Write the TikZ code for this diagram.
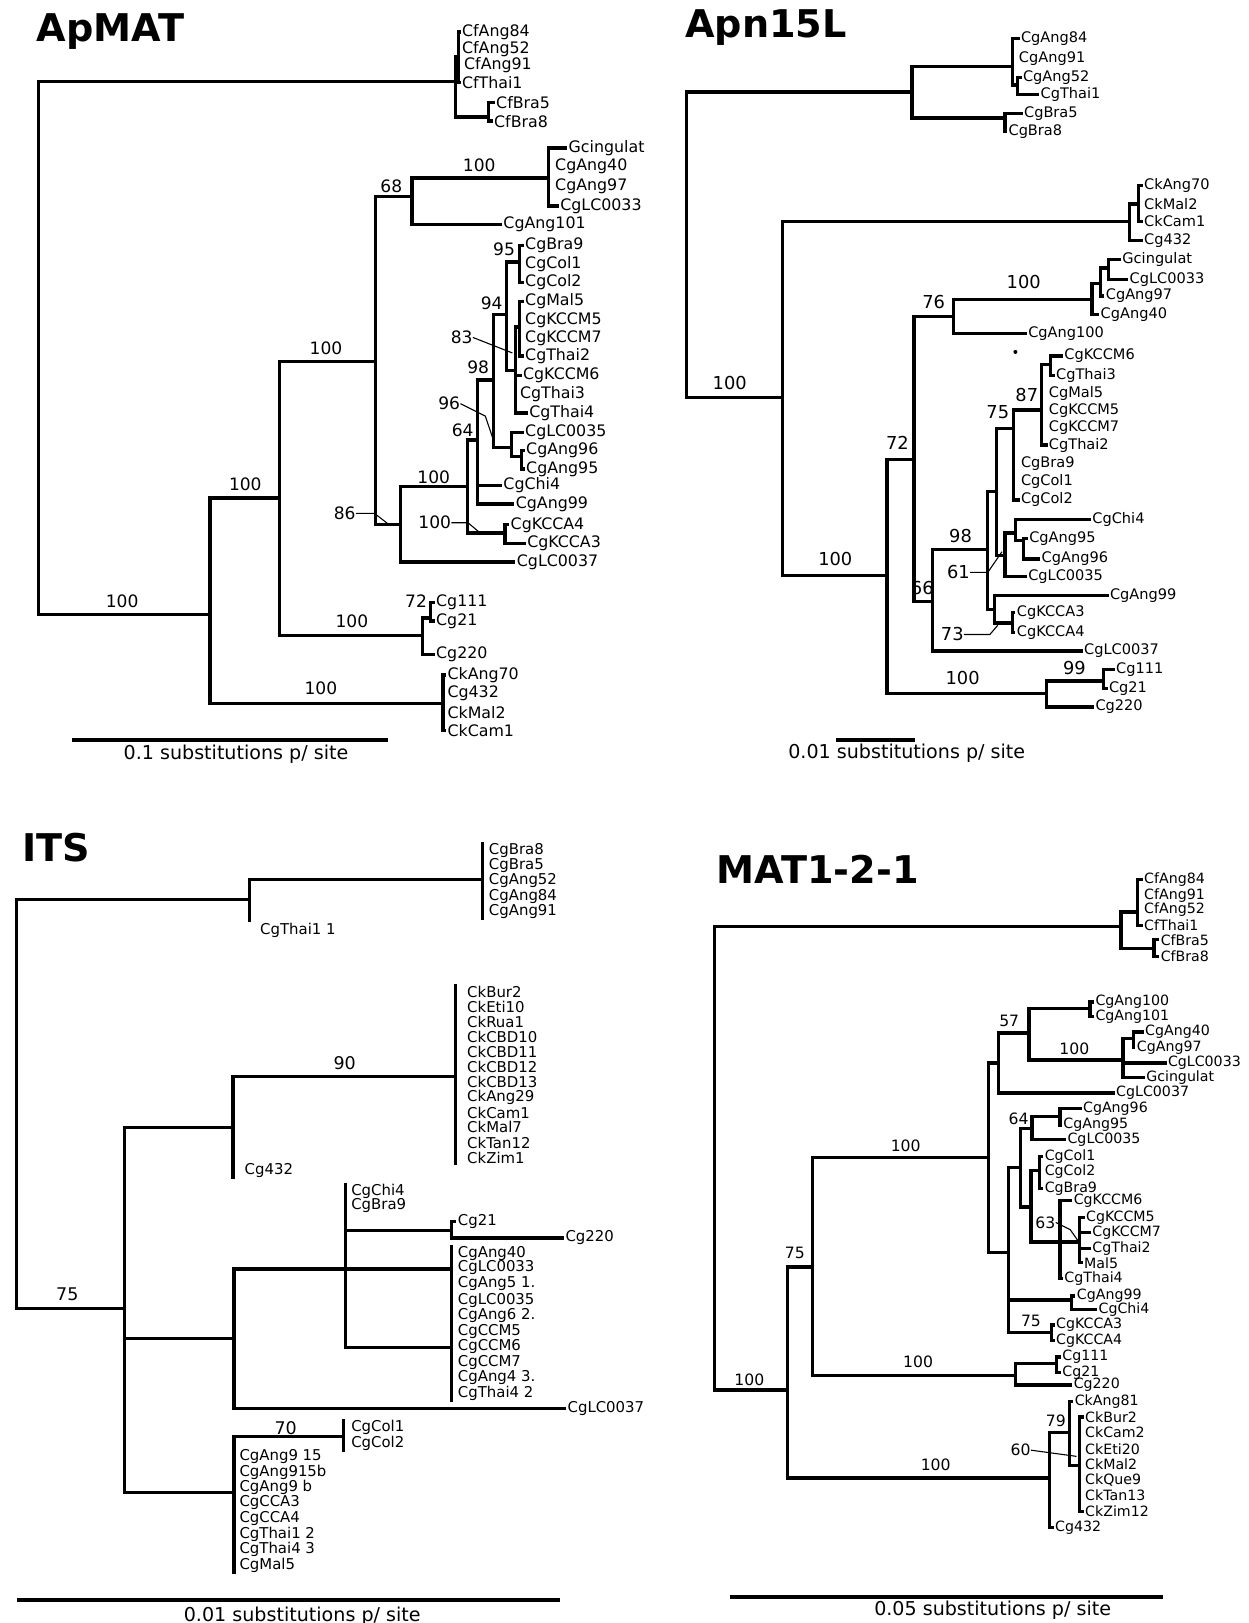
\documentclass[tikz,border=0pt]{standalone}
\usepackage{fontspec}
\setmainfont{DejaVu Sans}
\begin{document}
\begin{tikzpicture}[x=0.02cm, y=-0.02cm,
    br/.style={line width=1.8pt},
    ptr/.style={line width=0.6pt},
    bar/.style={line width=2.3pt},
    ttl/.style={font=\fontsize{21}{24}\selectfont\bfseries},
    scl/.style={font=\fontsize{10.5}{12}\selectfont},
    tipA/.style={anchor=west, inner sep=0.6pt, font=\fontsize{8.7}{9}\selectfont},
    tipB/.style={anchor=west, inner sep=0.6pt, font=\fontsize{8}{8}\selectfont},
    tipC/.style={anchor=west, inner sep=0.6pt, font=\fontsize{8.2}{8}\selectfont},
    tipD/.style={anchor=west, inner sep=0.6pt, font=\fontsize{7.8}{8}\selectfont},
    bsA/.style={inner sep=0pt, font=\fontsize{9.4}{10}\selectfont},
    bsB/.style={inner sep=0pt, font=\fontsize{9.8}{10}\selectfont},
    bsC/.style={inner sep=0pt, font=\fontsize{9.6}{10}\selectfont},
    bsD/.style={inner sep=0pt, font=\fontsize{8.6}{9}\selectfont}]

    \useasboundingbox (0,0) rectangle (1206,1568);

    % ============================================================
    % ApMAT
    % ============================================================
    \node[ttl] (tA) at (107,30) {ApMAT};

    \coordinate (aRoot) at (37,336);
    \coordinate (aCf) at (440,79);
    \coordinate (aCfP) at (443,55);
    \coordinate (aCfB) at (472,113);
    \coordinate (aIn) at (203,594);
    \coordinate (aN1) at (270,481);
    \coordinate (aCk) at (428,680);
    \coordinate (aN2) at (363,349);
    \coordinate (aCg) at (408,614);
    \coordinate (a72) at (416,597);
    \coordinate (a68) at (398,190);
    \coordinate (aGc) at (530,172);
    \coordinate (a86) at (387,507);
    \coordinate (aN3) at (452,470);
    \coordinate (aKA) at (488,515);
    \coordinate (a64) at (461,425);
    \coordinate (a98) at (477,367);
    \coordinate (a96) at (494,432);
    \coordinate (a96b) at (504,441);
    \coordinate (a94) at (489,304);
    \coordinate (a95) at (502,253);
    \coordinate (a83) at (498,358);
    \coordinate (aPo) at (502,316);

    \node[tipA] (aCfAng84) at (445,31) {CfAng84};
    \node[tipA] (aCfAng52) at (445,47) {CfAng52};
    \node[tipA] (aCfAng91) at (447,63) {CfAng91};
    \node[tipA] (aCfThai1) at (445,80) {CfThai1};
    \node[tipA] (aCfBra5) at (478,99) {CfBra5};
    \node[tipA] (aCfBra8) at (476,117) {CfBra8};
    \node[tipA] (aGcing) at (548,143) {Gcingulat};
    \node[tipA] (aCgAng40) at (535,161) {CgAng40};
    \node[tipA] (aCgAng97) at (535,180) {CgAng97};
    \node[tipA] (aCgLC0033) at (540,199) {CgLC0033};
    \node[tipA] (aCgAng101) at (485,217) {CgAng101};
    \node[tipA] (aCgBra9) at (506,237) {CgBra9};
    \node[tipA] (aCgCol1) at (506,255) {CgCol1};
    \node[tipA] (aCgCol2) at (506,273) {CgCol2};
    \node[tipA] (aCgMal5) at (506,291) {CgMal5};
    \node[tipA] (aCgKCCM5) at (506,309) {CgKCCM5};
    \node[tipA] (aCgKCCM7) at (506,327) {CgKCCM7};
    \node[tipA] (aCgThai2) at (506,344) {CgThai2};
    \node[tipA] (aCgKCCM6) at (504,363) {CgKCCM6};
    \node[tipA] (aCgThai3) at (501,381) {CgThai3};
    \node[tipA] (aCgThai4) at (510,399) {CgThai4};
    \node[tipA] (aCgLC0035) at (506,418) {CgLC0035};
    \node[tipA] (aCgAng96) at (507,435) {CgAng96};
    \node[tipA] (aCgAng95) at (507,453) {CgAng95};
    \node[tipA] (aCgChi4) at (485,469) {CgChi4};
    \node[tipA] (aCgAng99) at (497,487) {CgAng99};
    \node[tipA] (aCgKCCA4) at (492,507) {CgKCCA4};
    \node[tipA] (aCgKCCA3) at (508,525) {CgKCCA3};
    \node[tipA] (aCgLC0037) at (498,543) {CgLC0037};
    \node[tipA] (aCg111) at (420,582) {Cg111};
    \node[tipA] (aCg21) at (420,600) {Cg21};
    \node[tipA] (aCg220) at (420,632) {Cg220};
    \node[tipA] (aCkAng70) at (431,652) {CkAng70};
    \node[tipA] (aCg432) at (431,670) {Cg432};
    \node[tipA] (aCkMal2) at (431,688) {CkMal2};
    \node[tipA] (aCkCam1) at (431,706) {CkCam1};

    \draw[br] (aRoot) |- (aCf);
    \draw[br] (aRoot) |- (aIn);
    \draw[br] (aCf) |- (aCfP);
    \draw[br] (aCf) |- (aCfB);
    \draw[br] (aCfP) |- (aCfAng84.west);
    \draw[br] (aCfP) |- (aCfThai1.west);
    \draw[br] (aCfB) |- (aCfBra5.west);
    \draw[br] (aCfB) |- (aCfBra8.west);
    \draw[br] (aIn) |- (aN1);
    \draw[br] (aIn) |- (aCk);
    \draw[br] (aCk) |- (aCkAng70.west);
    \draw[br] (aCk) |- (aCkCam1.west);
    \draw[br] (aN1) |- (aN2);
    \draw[br] (aN1) |- (aCg);
    \draw[br] (aCg) |- (a72);
    \draw[br] (aCg) |- (aCg220.west);
    \draw[br] (a72) |- (aCg111.west);
    \draw[br] (a72) |- (aCg21.west);
    \draw[br] (aN2) |- (a68);
    \draw[br] (aN2) |- (a86);
    \draw[br] (a68) |- (aGc);
    \draw[br] (a68) |- (aCgAng101.west);
    \draw[br] (aGc) |- (aGcing.west);
    \draw[br] (aGc) |- (aCgLC0033.west);
    \draw[br] (a86) |- (aN3);
    \draw[br] (a86) |- (aCgLC0037.west);
    \draw[br] (aN3) |- (a64);
    \draw[br] (aN3) |- (aKA);
    \draw[br] (aKA) |- (aCgKCCA4.west);
    \draw[br] (aKA) |- (aCgKCCA3.west);
    \draw[br] (a64) |- (a98);
    \draw[br] (a64) |- (aCgChi4.west);
    \draw[br] (a64) |- (aCgAng99.west);
    \draw[br] (a98) |- (a94);
    \draw[br] (a98) |- (a96);
    \draw[br] (a96) |- (aCgLC0035.west);
    \draw[br] (a96) |- (a96b);
    \draw[br] (a96b) |- (aCgAng96.west);
    \draw[br] (a96b) |- (aCgAng95.west);
    \draw[br] (a94) |- (a95);
    \draw[br] (a94) |- (a83);
    \draw[br] (a95) |- (aCgBra9.west);
    \draw[br] (a95) |- (aCgCol2.west);
    \draw[br] (a83) |- (aPo);
    \draw[br] (a83) |- (aCgKCCM6.west);
    \draw[br] (a83) |- (aCgThai4.west);
    \draw[br] (aPo) |- (aCgMal5.west);
    \draw[br] (aPo) |- (aCgThai2.west);

    \node[bsA] (sA1) at (118,581) {100};
    \node[bsA] (sA2) at (237,468) {100};
    \node[bsA] (sA3) at (315,336) {100};
    \node[bsA] (sA4) at (340,600) {100};
    \node[bsA] (sA5) at (310,665) {100};
    \node[bsA] (sA6) at (378,180) {68};
    \node[bsA] (sA7) at (463,160) {100};
    \node[bsA] (sA8) at (402,581) {72};
    \node[bsA] (sA9) at (487,241) {95};
    \node[bsA] (sA10) at (475,293) {94};
    \node[bsA] (sA11) at (446,326) {83};
    \node[bsA] (sA12) at (462,355) {98};
    \node[bsA] (sA13) at (434,390) {96};
    \node[bsA] (sA14) at (447,416) {64};
    \node[bsA] (sA15) at (419,461) {100};
    \node[bsA] (sA16) at (333,496) {86};
    \node[bsA] (sA17) at (420,505) {100};

    \coordinate (pA83) at (495,341);
    \coordinate (pA96) at (477,426);
    \coordinate (pA86) at (376,507);
    \coordinate (pA100) at (464,515);
    \draw[ptr] (sA11.east) -- (pA83);
    \draw[ptr] (sA13.east) -- ++(24,12) -- (pA96);
    \draw[ptr] (sA16.east) -- ++(18,0) -- (pA86);
    \draw[ptr] (sA17.east) -- ++(16,0) -- (pA100);

    \coordinate (barA1) at (70,715);
    \coordinate (barA2) at (375,715);
    \draw[bar] (barA1) -- (barA2);
    \node[scl] (scA) at (228,729) {0.1 substitutions p/ site};

    % ============================================================
    % Apn15L
    % ============================================================
    \node[ttl] (tB) at (740,27) {Apn15L};

    \coordinate (bRoot) at (663,236);
    \coordinate (bCf) at (881,89);
    \coordinate (bTop) at (978,64);
    \coordinate (bT2) at (983,82);
    \coordinate (bBra) at (971,114);
    \coordinate (bN1) at (756,384);
    \coordinate (bCk) at (1091,214);
    \coordinate (bCk2) at (1100,197);
    \coordinate (bN2) at (857,556);
    \coordinate (bCg) at (1011,670);
    \coordinate (b99) at (1066,658);
    \coordinate (b72) at (883,444);
    \coordinate (b76) at (921,306);
    \coordinate (b100) at (1055,289);
    \coordinate (bGc2) at (1063,274);
    \coordinate (bGc3) at (1071,259);
    \coordinate (b66) at (901,581);
    \coordinate (b98) at (954,531);
    \coordinate (bA) at (963,475);
    \coordinate (b75) at (979,414);
    \coordinate (b87) at (1006,396);
    \coordinate (bK6) at (1015,352);
    \coordinate (b61) at (971,537);
    \coordinate (bChi) at (981,515);
    \coordinate (b9596) at (989,522);
    \coordinate (bB) at (961,589);
    \coordinate (bKA) at (978,602);

    \node[tipB] (bCgAng84) at (985,37) {CgAng84};
    \node[tipB] (bCgAng91) at (983,57) {CgAng91};
    \node[tipB] (bCgAng52) at (987,75) {CgAng52};
    \node[tipB] (bCgThai1) at (1004,91) {CgThai1};
    \node[tipB] (bCgBra5) at (988,110) {CgBra5};
    \node[tipB] (bCgBra8) at (973,127) {CgBra8};
    \node[tipB] (bCkAng70) at (1104,179) {CkAng70};
    \node[tipB] (bCkMal2) at (1104,197) {CkMal2};
    \node[tipB] (bCkCam1) at (1104,214) {CkCam1};
    \node[tipB] (bCg432) at (1104,232) {Cg432};
    \node[tipB] (bGcing) at (1083,251) {Gcingulat};
    \node[tipB] (bCgLC0033) at (1090,270) {CgLC0033};
    \node[tipB] (bCgAng97) at (1067,286) {CgAng97};
    \node[tipB] (bCgAng40) at (1062,304) {CgAng40};
    \node[tipB] (bCgAng100) at (992,322) {CgAng100};
    \node[tipB] (bCgKCCM6) at (1027,344) {CgKCCM6};
    \node[tipB] (bCgThai3) at (1019,363) {CgThai3};
    \node[tipB] (bCgMal5) at (1012,380) {CgMal5};
    \node[tipB] (bCgKCCM5) at (1012,397) {CgKCCM5};
    \node[tipB] (bCgKCCM7) at (1012,413) {CgKCCM7};
    \node[tipB] (bCgThai2) at (1012,430) {CgThai2};
    \node[tipB] (bCgBra9) at (985,448) {CgBra9};
    \node[tipB] (bCgCol1) at (985,465) {CgCol1};
    \node[tipB] (bCgCol2) at (985,483) {CgCol2};
    \node[tipB] (bCgChi4) at (1054,502) {CgChi4};
    \node[tipB] (bCgAng95) at (993,520) {CgAng95};
    \node[tipB] (bCgAng96) at (1005,540) {CgAng96};
    \node[tipB] (bCgLC0035) at (992,557) {CgLC0035};
    \node[tipB] (bCgAng99) at (1071,575) {CgAng99};
    \node[tipB] (bCgKCCA3) at (981,592) {CgKCCA3};
    \node[tipB] (bCgKCCA4) at (981,611) {CgKCCA4};
    \node[tipB] (bCgLC0037) at (1046,629) {CgLC0037};
    \node[tipB] (bCg111) at (1077,647) {Cg111};
    \node[tipB] (bCg21) at (1070,665) {Cg21};
    \node[tipB] (bCg220) at (1057,683) {Cg220};

    \draw[br] (bRoot) |- (bCf);
    \draw[br] (bRoot) |- (bN1);
    \draw[br] (bCf) |- (bTop);
    \draw[br] (bCf) |- (bBra);
    \draw[br] (bTop) |- (bCgAng84.west);
    \draw[br] (bTop) |- (bT2);
    \draw[br] (bT2) |- (bCgAng52.west);
    \draw[br] (bT2) |- (bCgThai1.west);
    \draw[br] (bBra) |- (bCgBra5.west);
    \draw[br] (bBra) |- (bCgBra8.west);
    \draw[br] (bN1) |- (bCk);
    \draw[br] (bN1) |- (bN2);
    \draw[br] (bCk) |- (bCk2);
    \draw[br] (bCk) |- (bCg432.west);
    \draw[br] (bCk2) |- (bCkAng70.west);
    \draw[br] (bCk2) |- (bCkCam1.west);
    \draw[br] (bN2) |- (b72);
    \draw[br] (bN2) |- (bCg);
    \draw[br] (bCg) |- (b99);
    \draw[br] (bCg) |- (bCg220.west);
    \draw[br] (b99) |- (bCg111.west);
    \draw[br] (b99) |- (bCg21.west);
    \draw[br] (b72) |- (b76);
    \draw[br] (b72) |- (b66);
    \draw[br] (b76) |- (b100);
    \draw[br] (b76) |- (bCgAng100.west);
    \draw[br] (b100) |- (bGc2);
    \draw[br] (b100) |- (bCgAng40.west);
    \draw[br] (bGc2) |- (bGc3);
    \draw[br] (bGc2) |- (bCgAng97.west);
    \draw[br] (bGc3) |- (bGcing.west);
    \draw[br] (bGc3) |- (bCgLC0033.west);
    \draw[br] (b66) |- (b98);
    \draw[br] (b66) |- (bCgLC0037.west);
    \draw[br] (b98) |- (bA);
    \draw[br] (b98) |- (bB);
    \draw[br] (bA) |- (b75);
    \draw[br] (bA) |- (b61);
    \draw[br] (b75) |- (b87);
    \draw[br] (b75) |- (bCgCol2.west);
    \draw[br] (b87) |- (bK6);
    \draw[br] (b87) |- (bCgThai2.west);
    \draw[br] (bK6) |- (bCgKCCM6.west);
    \draw[br] (bK6) |- (bCgThai3.west);
    \draw[br] (b61) |- (bChi);
    \draw[br] (b61) |- (bCgLC0035.west);
    \draw[br] (bChi) |- (bCgChi4.west);
    \draw[br] (bChi) |- (b9596);
    \draw[br] (b9596) |- (bCgAng95.west);
    \draw[br] (b9596) |- (bCgAng96.west);
    \draw[br] (bB) |- (bCgAng99.west);
    \draw[br] (bB) |- (bKA);
    \draw[br] (bKA) |- (bCgKCCA3.west);
    \draw[br] (bKA) |- (bCgKCCA4.west);

    \node[bsB] (sB1) at (705,370) {100};
    \node[bsB] (sB2) at (807,540) {100};
    \node[bsB] (sB3) at (867,428) {72};
    \node[bsB] (sB4) at (902,292) {76};
    \node[bsB] (sB5) at (989,272) {100};
    \node[bsB] (sB6) at (992,382) {87};
    \node[bsB] (sB7) at (964,398) {75};
    \node[bsB] (sB8) at (928,518) {98};
    \node[bsB] (sB9) at (926,553) {61};
    \node[bsB] (sB10) at (891,568) {66};
    \node[bsB] (sB11) at (920,613) {73};
    \node[bsB] (sB12) at (930,655) {100};
    \node[bsB] (sB13) at (1038,645) {99};

    \coordinate (pB61) at (968,533);
    \coordinate (pB73) at (964,604);
    \draw[ptr] (sB9.east) -- ++(17,0) -- (pB61);
    \draw[ptr] (sB11.east) -- ++(25,0) -- (pB73);
    \coordinate (dotB) at (981,340);
    \fill (dotB) circle (1.1pt);

    \coordinate (barB1) at (808,715);
    \coordinate (barB2) at (884,715);
    \draw[bar] (barB1) -- (barB2);
    \node[scl] (scB) at (876,728) {0.01 substitutions p/ site};

    % ============================================================
    % ITS
    % ============================================================
    \node[ttl] (tC) at (54,819) {ITS};

    \coordinate (cRoot) at (16,1066);
    \coordinate (cTop) at (241,869);
    \coordinate (cBra) at (466,850);
    \coordinate (cN1) at (120,1264);
    \coordinate (cCk) at (225,1089);
    \coordinate (cCk2) at (440,1040);
    \coordinate (cMid) at (226,1293);
    \coordinate (cN2) at (334,1226);
    \coordinate (cC21) at (436,1189);
    \coordinate (cAng40) at (436,1226);
    \coordinate (cLC35) at (436,1302);
    \coordinate (cBot) at (226,1442);
    \coordinate (c70) at (332,1388);

    \node[tipC] (cCgBra8) at (471,822) {CgBra8};
    \node[tipC] (cCgBra5) at (471,836) {CgBra5};
    \node[tipC] (cCgAng52) at (471,851) {CgAng52};
    \node[tipC] (cCgAng84) at (471,866) {CgAng84};
    \node[tipC] (cCgAng91) at (471,881) {CgAng91};
    \node[tipC] (cCgThaiA) at (250,899) {CgThai1 1};
    \node[tipC] (cCkBur2) at (450,958) {CkBur2};
    \node[tipC] (cCkEti10) at (450,973) {CkEti10};
    \node[tipC] (cCkRua1) at (450,987) {CkRua1};
    \node[tipC] (cCkCBD10) at (450,1002) {CkCBD10};
    \node[tipC] (cCkCBD11) at (450,1016) {CkCBD11};
    \node[tipC] (cCkCBD12) at (450,1031) {CkCBD12};
    \node[tipC] (cCkCBD13) at (450,1045) {CkCBD13};
    \node[tipC] (cCkAng29) at (450,1060) {CkAng29};
    \node[tipC] (cCkCam1) at (450,1075) {CkCam1};
    \node[tipC] (cCkMal7) at (450,1089) {CkMal7};
    \node[tipC] (cCkTan12) at (450,1104) {CkTan12};
    \node[tipC] (cCkZim1) at (450,1119) {CkZim1};
    \node[tipC] (cCg432) at (235,1131) {Cg432};
    \node[tipC] (cCgChi4) at (338,1151) {CgChi4};
    \node[tipC] (cCgBra9) at (338,1165) {CgBra9};
    \node[tipC] (cCg21) at (441,1180) {Cg21};
    \node[tipC] (cCg220) at (545,1196) {Cg220};
    \node[tipC] (cCgAng40) at (441,1211) {CgAng40};
    \node[tipC] (cCgLC0033) at (441,1225) {CgLC0033};
    \node[tipC] (cCgAngFive) at (441,1240) {CgAng5 1.};
    \node[tipC] (cCgLC0035) at (441,1256) {CgLC0035};
    \node[tipC] (cCgAngSix) at (441,1271) {CgAng6 2.};
    \node[tipC] (cCgCCM5) at (441,1286) {CgCCM5};
    \node[tipC] (cCgCCM6) at (441,1301) {CgCCM6};
    \node[tipC] (cCgCCM7) at (441,1316) {CgCCM7};
    \node[tipC] (cCgAngFour) at (441,1331) {CgAng4 3.};
    \node[tipC] (cCgThaiB) at (441,1346) {CgThai4 2};
    \node[tipC] (cCgLC0037) at (547,1361) {CgLC0037};
    \node[tipC] (cCgCol1) at (338,1379) {CgCol1};
    \node[tipC] (cCgCol2) at (338,1394) {CgCol2};
    \node[tipC] (cCgAngNa) at (230,1407) {CgAng9 15};
    \node[tipC] (cCgAngNb) at (230,1422) {CgAng915b};
    \node[tipC] (cCgAngNc) at (230,1437) {CgAng9 b};
    \node[tipC] (cCgCCA3) at (230,1452) {CgCCA3};
    \node[tipC] (cCgCCA4) at (230,1467) {CgCCA4};
    \node[tipC] (cCgThaiC) at (230,1482) {CgThai1 2};
    \node[tipC] (cCgThaiD) at (230,1497) {CgThai4 3};
    \node[tipC] (cCgMal5) at (230,1512) {CgMal5};

    \draw[br] (cRoot) |- (cTop);
    \draw[br] (cRoot) |- (cN1);
    \draw[br] (cTop) |- (cBra);
    \draw[br] (cTop) -- (cTop |- cCgThaiA.north);
    \draw[br] (cBra |- cCgBra8.north) -- (cBra |- cCgAng91.south);
    \draw[br] (cN1) |- (cCk);
    \draw[br] (cN1) |- (cMid);
    \draw[br] (cN1) |- (cBot);
    \draw[br] (cCk) |- (cCk2);
    \draw[br] (cCk) -- (cCk |- cCg432.south);
    \draw[br] (cCk2 |- cCkBur2.north) -- (cCk2 |- cCkZim1.south);
    \draw[br] (cMid) |- (cN2);
    \draw[br] (cMid) |- (cCgLC0037.west);
    \draw[br] (cN2) -- (cN2 |- cCgChi4.north);
    \draw[br] (cN2) |- (cC21);
    \draw[br] (cN2) |- (cAng40);
    \draw[br] (cN2) |- (cLC35);
    \draw[br] (cC21) |- (cCg21.west);
    \draw[br] (cC21) |- (cCg220.west);
    \draw[br] (cAng40 |- cCgAng40.north) -- (cAng40 |- cCgAngFive.south);
    \draw[br] (cLC35 |- cCgLC0035.north) -- (cLC35 |- cCgThaiB.south);
    \draw[br] (cBot) |- (c70);
    \draw[br] (cBot) -- (cBot |- cCgMal5.south);
    \draw[br] (c70 |- cCgCol1.north) -- (c70 |- cCgCol2.south);

    \node[bsC] (sC1) at (65,1250) {75};
    \node[bsC] (sC2) at (333,1027) {90};
    \node[bsC] (sC3) at (276,1380) {70};

    \coordinate (barC1) at (16,1546);
    \coordinate (barC2) at (541,1546);
    \draw[bar] (barC1) -- (barC2);
    \node[scl] (scC) at (292,1561) {0.01 substitutions p/ site};

    % ============================================================
    % MAT1-2-1
    % ============================================================
    \node[ttl] (tD) at (790,840) {MAT1-2-1};

    \coordinate (dRoot) at (690,1119);
    \coordinate (dCf) at (1083,895);
    \coordinate (dCf2) at (1099,881);
    \coordinate (dBra) at (1115,916);
    \coordinate (dN1) at (761,1343);
    \coordinate (d75) at (785,1224);
    \coordinate (dCgN) at (981,1329);
    \coordinate (dC111) at (1021,1317);
    \coordinate (dCk) at (1014,1428);
    \coordinate (d79) at (1033,1384);
    \coordinate (d60) at (1043,1416);
    \coordinate (d100a) at (955,1118);
    \coordinate (dA) at (965,1027);
    \coordinate (d57) at (994,998);
    \coordinate (dAng100) at (1053,974);
    \coordinate (d100c) at (1085,1024);
    \coordinate (dAng40) at (1095,1003);
    \coordinate (dB) at (974,1210);
    \coordinate (dC) at (986,1128);
    \coordinate (d64) at (997,1090);
    \coordinate (d9695) at (1024,1079);
    \coordinate (dD) at (996,1166);
    \coordinate (dCol) at (1004,1131);
    \coordinate (dE) at (1024,1200);
    \coordinate (d63) at (1043,1200);
    \coordinate (dChi) at (1035,1256);
    \coordinate (dKA) at (1016,1287);

    \node[tipD] (dCfAng84) at (1104,850) {CfAng84};
    \node[tipD] (dCfAng91) at (1104,865) {CfAng91};
    \node[tipD] (dCfAng52) at (1104,879) {CfAng52};
    \node[tipD] (dCfThai1) at (1104,894) {CfThai1};
    \node[tipD] (dCfBra5) at (1120,908) {CfBra5};
    \node[tipD] (dCfBra8) at (1120,924) {CfBra8};
    \node[tipD] (dCgAng100) at (1057,968) {CgAng100};
    \node[tipD] (dCgAng101) at (1057,982) {CgAng101};
    \node[tipD] (dCgAng40) at (1105,997) {CgAng40};
    \node[tipD] (dCgAng97) at (1097,1012) {CgAng97};
    \node[tipD] (dCgLC0033) at (1127,1027) {CgLC0033};
    \node[tipD] (dGcing) at (1106,1041) {Gcingulat};
    \node[tipD] (dCgLC0037) at (1077,1056) {CgLC0037};
    \node[tipD] (dCgAng96) at (1045,1071) {CgAng96};
    \node[tipD] (dCgAng95) at (1026,1087) {CgAng95};
    \node[tipD] (dCgLC0035) at (1030,1101) {CgLC0035};
    \node[tipD] (dCgCol1) at (1008,1117) {CgCol1};
    \node[tipD] (dCgCol2) at (1008,1132) {CgCol2};
    \node[tipD] (dCgBra9) at (1008,1148) {CgBra9};
    \node[tipD] (dCgKCCM6) at (1036,1160) {CgKCCM6};
    \node[tipD] (dCgKCCM5) at (1048,1176) {CgKCCM5};
    \node[tipD] (dCgKCCM7) at (1054,1191) {CgKCCM7};
    \node[tipD] (dCgThai2) at (1054,1206) {CgThai2};
    \node[tipD] (dMal5) at (1046,1220) {Mal5};
    \node[tipD] (dCgThai4) at (1027,1235) {CgThai4};
    \node[tipD] (dCgAng99) at (1039,1252) {CgAng99};
    \node[tipD] (dCgChi4) at (1060,1265) {CgChi4};
    \node[tipD] (dCgKCCA3) at (1019,1280) {CgKCCA3};
    \node[tipD] (dCgKCCA4) at (1019,1295) {CgKCCA4};
    \node[tipD] (dCg111) at (1025,1311) {Cg111};
    \node[tipD] (dCg21) at (1025,1326) {Cg21};
    \node[tipD] (dCg220) at (1036,1338) {Cg220};
    \node[tipD] (dCkAng81) at (1037,1354) {CkAng81};
    \node[tipD] (dCkBur2) at (1047,1369) {CkBur2};
    \node[tipD] (dCkCam2) at (1047,1384) {CkCam2};
    \node[tipD] (dCkEti20) at (1047,1400) {CkEti20};
    \node[tipD] (dCkMal2) at (1047,1415) {CkMal2};
    \node[tipD] (dCkQue9) at (1047,1430) {CkQue9};
    \node[tipD] (dCkTan13) at (1047,1445) {CkTan13};
    \node[tipD] (dCkZim12) at (1047,1460) {CkZim12};
    \node[tipD] (dCg432) at (1018,1476) {Cg432};

    \draw[br] (dRoot) |- (dCf);
    \draw[br] (dRoot) |- (dN1);
    \draw[br] (dCf) |- (dCf2);
    \draw[br] (dCf) |- (dBra);
    \draw[br] (dCf2) |- (dCfAng84.west);
    \draw[br] (dCf2) |- (dCfThai1.west);
    \draw[br] (dBra) |- (dCfBra5.west);
    \draw[br] (dBra) |- (dCfBra8.west);
    \draw[br] (dN1) |- (d75);
    \draw[br] (dN1) |- (dCk);
    \draw[br] (d75) |- (d100a);
    \draw[br] (d75) |- (dCgN);
    \draw[br] (dCgN) |- (dC111);
    \draw[br] (dCgN) |- (dCg220.west);
    \draw[br] (dC111) |- (dCg111.west);
    \draw[br] (dC111) |- (dCg21.west);
    \draw[br] (dCk) |- (d79);
    \draw[br] (dCk) |- (dCg432.west);
    \draw[br] (d79) |- (dCkAng81.west);
    \draw[br] (d79) |- (d60);
    \draw[br] (d60) |- (dCkBur2.west);
    \draw[br] (d60) |- (dCkZim12.west);
    \draw[br] (d100a) |- (dA);
    \draw[br] (d100a) |- (dB);
    \draw[br] (dA) |- (d57);
    \draw[br] (dA) |- (dCgLC0037.west);
    \draw[br] (d57) |- (dAng100);
    \draw[br] (d57) |- (d100c);
    \draw[br] (dAng100) |- (dCgAng100.west);
    \draw[br] (dAng100) |- (dCgAng101.west);
    \draw[br] (d100c) |- (dAng40);
    \draw[br] (d100c) |- (dCgLC0033.west);
    \draw[br] (d100c) |- (dGcing.west);
    \draw[br] (dAng40) |- (dCgAng40.west);
    \draw[br] (dAng40) |- (dCgAng97.west);
    \draw[br] (dB) |- (dC);
    \draw[br] (dB) |- (dChi);
    \draw[br] (dB) |- (dKA);
    \draw[br] (dC) |- (d64);
    \draw[br] (dC) |- (dD);
    \draw[br] (d64) |- (d9695);
    \draw[br] (d64) |- (dCgLC0035.west);
    \draw[br] (d9695) |- (dCgAng96.west);
    \draw[br] (d9695) |- (dCgAng95.west);
    \draw[br] (dD) |- (dCol);
    \draw[br] (dD) |- (dE);
    \draw[br] (dCol) |- (dCgCol1.west);
    \draw[br] (dCol) |- (dCgBra9.west);
    \draw[br] (dE) |- (dCgKCCM6.west);
    \draw[br] (dE) |- (dCgThai4.west);
    \draw[br] (dE) -- (d63);
    \draw[br] (d63) |- (dCgKCCM5.west);
    \draw[br] (d63) |- (dCgKCCM7.west);
    \draw[br] (d63) |- (dCgThai2.west);
    \draw[br] (d63) |- (dMal5.west);
    \draw[br] (dChi) |- (dCgAng99.west);
    \draw[br] (dChi) |- (dCgChi4.west);
    \draw[br] (dKA) |- (dCgKCCA3.west);
    \draw[br] (dKA) |- (dCgKCCA4.west);

    \node[bsD] (sD1) at (724,1333) {100};
    \node[bsD] (sD2) at (768,1210) {75};
    \node[bsD] (sD3) at (875,1107) {100};
    \node[bsD] (sD4) at (887,1316) {100};
    \node[bsD] (sD5) at (904,1415) {100};
    \node[bsD] (sD6) at (975,986) {57};
    \node[bsD] (sD7) at (1038,1013) {100};
    \node[bsD] (sD8) at (984,1081) {64};
    \node[bsD] (sD9) at (1010,1181) {63};
    \node[bsD] (sD10) at (996,1276) {75};
    \node[bsD] (sD11) at (1020,1373) {79};
    \node[bsD] (sD12) at (986,1401) {60};

    \coordinate (pD63) at (1041,1198);
    \coordinate (pD60) at (1040,1407);
    \draw[ptr] (sD9.east) -- ++(14,7) -- (pD63);
    \draw[ptr] (sD12.east) -- (pD60);

    \coordinate (barD1) at (705,1543);
    \coordinate (barD2) at (1124,1543);
    \draw[bar] (barD1) -- (barD2);
    \node[scl] (scD) at (959,1556) {0.05 substitutions p/ site};

\end{tikzpicture}
\end{document}
